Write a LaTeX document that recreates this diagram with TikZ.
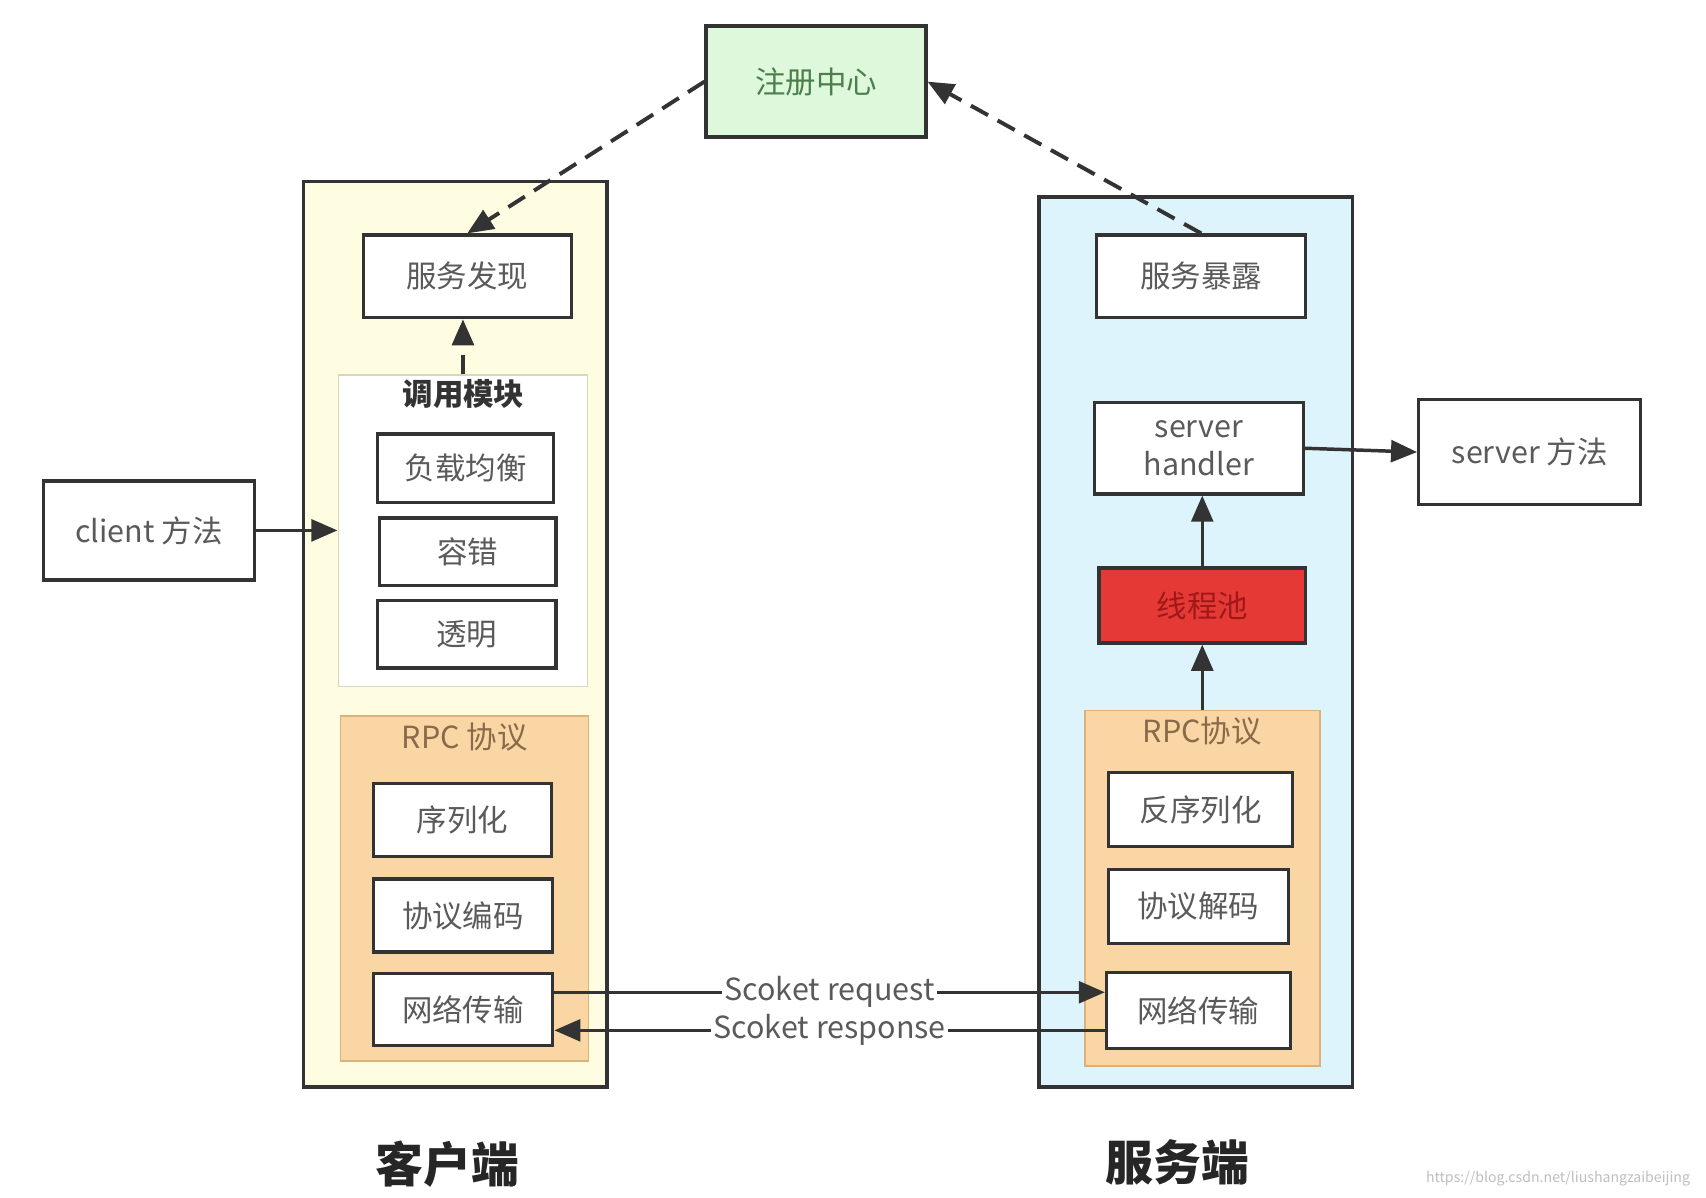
\documentclass[tikz,border=0pt]{standalone}
\usepackage{fontspec}
\setmainfont{Noto Sans CJK SC}
\usetikzlibrary{arrows.meta,calc}
\definecolor{bordc}{HTML}{333333}
\definecolor{txtc}{HTML}{5A5A5A}
\definecolor{yelf}{HTML}{FFFDE1}
\definecolor{bluf}{HTML}{DDF4FD}
\definecolor{grnf}{HTML}{DDF8DA}
\definecolor{grnt}{HTML}{4E7E4E}
\definecolor{pchf}{HTML}{F9D6A4}
\definecolor{pchd}{HTML}{D9B27E}
\definecolor{pcht}{HTML}{8A6A4A}
\definecolor{redf}{HTML}{E53935}
\definecolor{redt}{HTML}{A01818}
\definecolor{calld}{HTML}{D8D8B8}
\tikzset{
  base/.style={rectangle, inner sep=0pt, font=\fontsize{14}{16}\selectfont, text=txtc, align=center},
  wbox/.style={base, draw=bordc, line width=1.5pt, fill=white},
  outerbox/.style={rectangle, inner sep=0pt, draw=bordc, line width=1.5pt},
  arr/.style={-{Triangle[length=12pt,width=10pt]}, line width=1.6pt, draw=bordc},
  darr/.style={arr, line width=1.8pt, dash pattern=on 9pt off 5pt},
  lbl/.style={font=\fontsize{14}{16}\selectfont, text=txtc, fill=white, inner sep=1pt},
}
\begin{document}
\begin{tikzpicture}[x=0.5pt,y=-0.5pt]
\useasboundingbox (0,0) rectangle (1568,1101);
\fill[white] (0,0) rectangle (1568,1101);

% registry
\node[wbox, fill=grnf, text=grnt, minimum width=101pt, minimum height=51pt] (reg) at (750,75) {注册中心};

% client side
\node[outerbox, fill=yelf, minimum width=139.5pt, minimum height=416pt] (cli) at (418.5,583) {};
\node[wbox, minimum width=95.5pt, minimum height=38pt] (fx) at (429.5,254) {服务发现};
\node[rectangle, inner sep=0pt, draw=calld, line width=0.8pt, fill=white, minimum width=114.5pt, minimum height=143pt] (call) at (425.5,488) {};
\node[base, text=bordc, font=\fontsize{14}{16}\selectfont\bfseries] (calltitle) at (426,362) {调用模块};
\node[wbox, minimum width=81pt, minimum height=31.5pt] (lb) at (428,430.5) {负载均衡};
\node[wbox, minimum width=81pt, minimum height=31pt] (ft) at (430,507) {容错};
\node[wbox, minimum width=82pt, minimum height=31pt] (tm) at (429,583) {透明};
\node[rectangle, inner sep=0pt, draw=pchd, line width=0.8pt, fill=pchf, minimum width=114pt, minimum height=158.5pt] (crpc) at (427,816.5) {};
\node[base, text=pcht] (crpct) at (427,677) {RPC 协议};
\node[wbox, minimum width=82pt, minimum height=33.5pt] (xl) at (425,753.5) {序列化};
\node[wbox, minimum width=82.5pt, minimum height=33.5pt] (bm) at (425.5,841.5) {协议编码};
\node[wbox, minimum width=82.5pt, minimum height=33pt] (cnet) at (425.5,928) {网络传输};
\node[wbox, minimum width=97pt, minimum height=45.5pt] (cm) at (137,487.5) {client 方法};

% server side
\node[outerbox, fill=bluf, minimum width=144pt, minimum height=409pt] (srv) at (1099,590) {};
\node[wbox, minimum width=96pt, minimum height=38pt] (bl) at (1104,254) {服务暴露};
\node[wbox, minimum width=96pt, minimum height=42pt, font=\fontsize{14}{17.5}\selectfont] (sh) at (1102,412) {server\\handler};
\node[wbox, fill=redf, text=redt, minimum width=95pt, minimum height=34.5pt] (pool) at (1105,556.5) {线程池};
\node[rectangle, inner sep=0pt, draw=pchd, line width=0.8pt, fill=pchf, minimum width=108pt, minimum height=163.5pt] (srpc) at (1105,816.5) {};
\node[base, text=pcht] (srpct) at (1105,672) {RPC协议};
\node[wbox, minimum width=84.5pt, minimum height=34pt] (fxl) at (1103.5,744) {反序列化};
\node[wbox, minimum width=82.5pt, minimum height=34pt] (jm) at (1101.5,833) {协议解码};
\node[wbox, minimum width=84.5pt, minimum height=35pt] (snet) at (1101.5,929) {网络传输};
\node[wbox, minimum width=102pt, minimum height=48.5pt] (sm) at (1406,415.5) {server 方法};

% connectors
\draw[arr] (cm.east) -- (cm.east -| call.west);
\draw[darr] (call.north) -- (call.north |- fx.south);
\draw[darr] (reg.west) -- (fx.north);
\draw[darr] (bl.north) -- (reg.east);
\draw[arr] (pool.north) -- (pool.north |- sh.south);
\draw[arr] (srpc.north) -- (srpc.north |- pool.south);
\draw[arr] (sh.east) -- (sm.west);

\coordinate (ry) at (0,912);
\coordinate (sy) at (0,947);
\draw[arr] (cnet.east |- ry) -- node[lbl] (reqlbl) {Scoket request} (snet.west |- ry);
\draw[arr] (snet.west |- sy) -- node[lbl] (reslbl) {Scoket response} (cnet.east |- sy);

% captions
\node[font=\fontsize{22}{24}\selectfont\bfseries, text=black!85] (clicap) at (411,1070) {客户端};
\node[font=\fontsize{22}{24}\selectfont\bfseries, text=black!85] (srvcap) at (1082,1068) {服务端};
\node[font=\fontsize{6.5}{7}\selectfont, text=black!25] (wm) at (1432,1083) {https://blog.csdn.net/liushangzaibeijing};
\end{tikzpicture}
\end{document}
